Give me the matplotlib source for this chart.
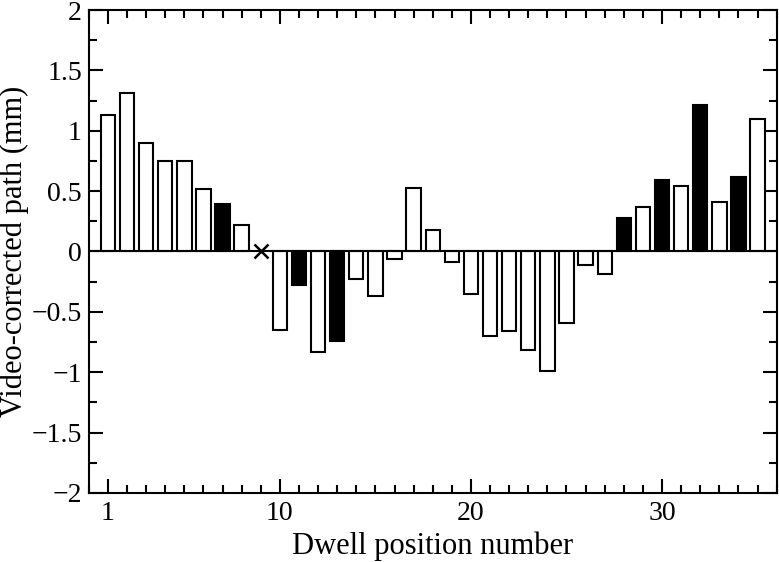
import numpy as np
import matplotlib
matplotlib.use('Agg')
import matplotlib.pyplot as plt
from matplotlib.ticker import MultipleLocator

# dwell positions and video-corrected path values (mm)
positions = [1, 2, 3, 4, 5, 6, 7, 8,
             10, 11, 12, 13, 14, 15, 16, 17, 18, 19, 20,
             21, 22, 23, 24, 25, 26, 27, 28, 29, 30,
             31, 32, 33, 34, 35]
values = [1.13, 1.31, 0.90, 0.75, 0.75, 0.52, 0.39, 0.22,
          -0.65, -0.28, -0.83, -0.745, -0.23, -0.365, -0.06, 0.53, 0.18, -0.09, -0.35,
          -0.70, -0.66, -0.82, -0.99, -0.59, -0.11, -0.19, 0.28, 0.37, 0.59,
          0.54, 1.21, 0.41, 0.62, 1.10]
filled = [7, 11, 13, 28, 30, 32, 34]
missing = [9]

y_ticks = [-2, -1.5, -1, -0.5, 0, 0.5, 1, 1.5, 2]
y_labels = ['\u22122', '\u22121.5', '\u22121', '\u22120.5', '0',
            '0.5', '1', '1.5', '2']
x_ticks = [1, 10, 20, 30]

plt.rcParams['font.family'] = ['Liberation Serif', 'DejaVu Serif']

fig = plt.figure(figsize=(7.79, 5.62), dpi=100)
ax = fig.add_axes([0.114, 0.123, 0.883, 0.859])

colors = ['black' if p in filled else 'white' for p in positions]
ax.bar(positions, values, width=0.75, color=colors, edgecolor='black',
       linewidth=1.5, zorder=3)
ax.axhline(0, color='black', lw=1.5, zorder=4)
ax.plot(missing, [0] * len(missing), 'x', color='black', ms=10, mew=1.8, zorder=5)

ax.set_xlim(0, 36)
ax.set_ylim(-2, 2)
ax.set_xticks(x_ticks)
ax.xaxis.set_minor_locator(MultipleLocator(1))
ax.set_yticks(y_ticks, y_labels)
ax.yaxis.set_minor_locator(MultipleLocator(0.25))

ax.tick_params(which='both', direction='in', top=True, right=True,
               width=1.5, labelsize=20)
ax.tick_params(axis='y', pad=5)
ax.tick_params(axis='x', pad=6)
ax.tick_params(which='major', length=10)
ax.tick_params(which='minor', length=6)
for s in ax.spines.values():
    s.set_linewidth(1.5)

ax.set_xlabel('Dwell position number', fontsize=22)
ax.set_ylabel('Video-corrected path (mm)', fontsize=22)
ax.xaxis.set_label_coords(0.5, -0.08)
ax.yaxis.set_label_coords(-0.087, 0.5)

fig.savefig('out.png', dpi=100)
plt.close(fig)
